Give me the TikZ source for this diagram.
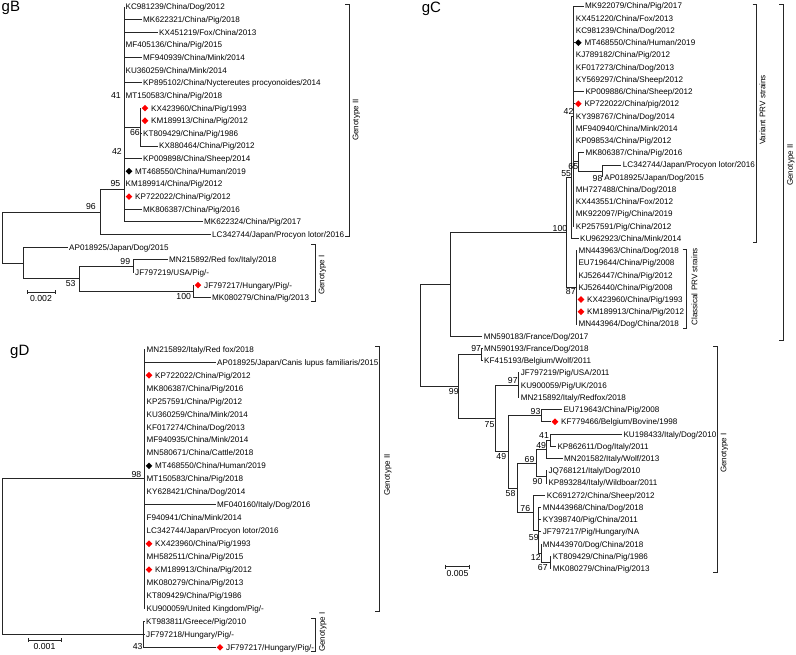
\documentclass[tikz,border=0pt]{standalone}
\usepackage{fontspec}
\setmainfont{Liberation Sans}
\usetikzlibrary{shapes.geometric}
\newcommand\lblfont{\fontsize{8.1}{9}\selectfont}
\newcommand\bsfont{\fontsize{8.7}{9}\selectfont}
\newcommand\ttlfont{\fontsize{15}{16}\selectfont}
\tikzset{
 br/.style={line width=0.9pt, draw=black!85},
 lab/.style={anchor=west, font=\lblfont, inner xsep=1.5pt, inner ysep=0pt, text height=5.8pt, text depth=0pt},
 bs/.style={font=\bsfont, inner sep=0pt, text height=6.2pt, text depth=0pt},
 dia/.style={diamond, inner sep=0pt, minimum size=6.8pt, draw=none},
 grp/.style={font=\lblfont, rotate=90, inner sep=0pt, text height=5.8pt, text depth=0pt},
 brk/.style={line width=1pt, draw=black!85},
 ttl/.style={font=\ttlfont, anchor=base west, inner sep=0pt},
}
% leaf: name, parent, tip x, y, text
\newcommand\tleaf[5]{\node[lab] (#1) at (#3,#4) {#5}; \draw[br] (#2) |- (#1.west);}
% leaf with diamond: name, parent, tip x, y, text, colour
\newcommand\dleaf[6]{\node[dia,fill=#6] (#1d) at ({#3+5},#4) {}; \node[lab] (#1) at ({#3+9.5},#4) {#5}; \draw[br] (#2) |- (#1d.west);}
% bracket: name, x, ytop, ybottom
\newcommand\gbracket[4]{\coordinate (#1t) at (#2,#3); \coordinate (#1b) at (#2,#4);
 \draw[brk] ([xshift=-4pt]#1t) -- (#1t) -- (#1b) -- ([xshift=-4pt]#1b);}
% scale bar: name, x1, x2, y, text
\newcommand\sbar[5]{\coordinate (#1L) at (#2,#4); \coordinate (#1R) at (#3,#4);
 \draw[br] (#1L) -- (#1R);
 \draw[br] ([yshift=2pt]#1L) -- ([yshift=-2pt]#1L);
 \draw[br] ([yshift=2pt]#1R) -- ([yshift=-2pt]#1R);
 \node[bs] (#1T) at ({(#2+#3)/2},{#4+6.5}) {#5};}
\begin{document}
\begin{tikzpicture}[x=1pt,y=-1pt]
\useasboundingbox (0,0) rectangle (796,654);
% ================= gB =================
\node[ttl] (tB) at (1.5,11.6) {gB};
\coordinate (bn66) at (140,127.1);
\coordinate (bn41) at (124,100);
\coordinate (bn42) at (124,156);
\coordinate (bn95) at (124,189.5);
\coordinate (bn96) at (100,212);
\coordinate (bn99) at (133,266.1);
\coordinate (bn100) at (193,291.4);
\coordinate (bn53) at (79,278.8);
\coordinate (bnI) at (23,263);
\coordinate (bRoot) at (2,237.5);
\draw[br] (bRoot) |- (bn96); \draw[br] (bRoot) |- (bnI);
\draw[br] (bn96) |- (bn95); \draw[br] (bn95) |- (bn42);
\draw[br] (bn42) |- (bn41); \draw[br] (bn41) |- (bn66);
\draw[br] (bnI) |- (bn53); \draw[br] (bn53) |- (bn99); \draw[br] (bn53) |- (bn100);
\tleaf{b1}{bn41}{124}{7.0}{KC981239/China/Dog/2012}
\tleaf{b2}{bn41}{141.5}{19.6}{MK622321/China/Pig/2018}
\tleaf{b3}{bn41}{157.5}{32.3}{KX451219/Fox/China/2013}
\tleaf{b4}{bn41}{124}{44.9}{MF405136/China/Pig/2015}
\tleaf{b5}{bn41}{141.5}{57.6}{MF940939/China/Mink/2014}
\tleaf{b6}{bn41}{124}{70.2}{KU360259/China/Mink/2014}
\tleaf{b7}{bn41}{141.5}{82.8}{KP895102/China/Nyctereutes procyonoides/2014}
\tleaf{b8}{bn41}{124}{95.5}{MT150583/China/Pig/2018}
\dleaf{b9}{bn66}{140}{108.1}{KX423960/China/Pig/1993}{red}
\dleaf{b10}{bn66}{140}{120.8}{KM189913/China/Pig/2012}{red}
\tleaf{b11}{bn66}{141.5}{133.4}{KT809429/China/Pig/1986}
\tleaf{b12}{bn66}{157.5}{146.0}{KX880464/China/Pig/2012}
\tleaf{b13}{bn42}{141.5}{158.7}{KP009898/China/Sheep/2014}
\dleaf{b14}{bn42}{124}{171.3}{MT468550/China/Human/2019}{black}
\tleaf{b15}{bn42}{124}{184.0}{KM189914/China/Pig/2012}
\dleaf{b16}{bn42}{124}{196.6}{KP722022/China/Pig/2012}{red}
\tleaf{b17}{bn42}{141.5}{209.2}{MK806387/China/Pig/2016}
\tleaf{b18}{bn95}{202.5}{221.9}{MK622324/China/Pig/2017}
\tleaf{b19}{bn96}{210.5}{234.5}{LC342744/Japan/Procyon lotor/2016}
\tleaf{b20}{bnI}{67.5}{247.2}{AP018925/Japan/Dog/2015}
\tleaf{b21}{bn99}{167.5}{259.8}{MN215892/Red fox/Italy/2018}
\tleaf{b22}{bn99}{133.5}{272.4}{JF797219/USA/Pig/-}
\dleaf{b23}{bn100}{193}{285.1}{JF797217/Hungary/Pig/-}{red}
\tleaf{b24}{bn100}{210.5}{297.7}{MK080279/China/Pig/2013}
\node[bs] (bb41) at (116,95.7) {41};
\node[bs] (bb42) at (117,151) {42};
\node[bs] (bb95) at (115.5,183.3) {95};
\node[bs] (bb96) at (91,206.7) {96};
\node[bs] (bb66) at (135,132.5) {66};
\node[bs] (bb99) at (125.3,261.7) {99};
\node[bs] (bb53) at (70.7,283.3) {53};
\node[bs] (bb100) at (183.7,296.7) {100};
\sbar{bs}{27}{55}{292.3}{0.002}
\gbracket{bGII}{349.3}{4.7}{236.7}
\node[grp] (bGIIt) at (355.5,120) {Genotype II};
\gbracket{bGI}{315}{244}{301.7}
\node[grp] (bGIt) at (321.5,275) {Genotype I};
% ================= gC =================
\node[ttl] (tC) at (421.7,12.6) {gC};
\coordinate (cn98) at (602.7,171.1);
\coordinate (cn65) at (578.7,161.9);
\coordinate (cn42) at (573.3,116.1);
\coordinate (cn55) at (571.5,177.2);
\coordinate (cn87) at (576,287.3);
\coordinate (cn100) at (566,232.3);
\coordinate (cnA) at (450,284.2);
\coordinate (cn97a) at (481.7,354.6);
\coordinate (cn97b) at (518.3,385.1);
\coordinate (cn93) at (541,415.7);
\coordinate (cn41) at (550,440.2);
\coordinate (cn49b) at (546.7,449.3);
\coordinate (cn90) at (546,476.9);
\coordinate (cn69) at (536,463.1);
\coordinate (cn67) at (550,562.5);
\coordinate (cn12) at (541.2,553.3);
\coordinate (cn59) at (538.3,530.4);
\coordinate (cn76) at (533.3,512.8);
\coordinate (cn58) at (517.3,488);
\coordinate (cn49) at (508.3,451.9);
\coordinate (cn75) at (495,418.5);
\coordinate (cn99) at (458.3,386.6);
\coordinate (cRoot) at (420.7,335.4);
\draw[br] (cRoot) |- (cnA); \draw[br] (cRoot) |- (cn99);
\draw[br] (cnA) |- (cn100); \draw[br] (cn100) |- (cn55); \draw[br] (cn100) |- (cn87);
\draw[br] (cn55) |- (cn42); \draw[br] (cn42) |- (cn65); \draw[br] (cn65) |- (cn98);
\draw[br] (cn99) |- (cn97a); \draw[br] (cn99) |- (cn75);
\draw[br] (cn75) |- (cn97b); \draw[br] (cn75) |- (cn49);
\draw[br] (cn49) |- (cn93); \draw[br] (cn49) |- (cn58);
\draw[br] (cn58) |- (cn69); \draw[br] (cn58) |- (cn76);
\draw[br] (cn69) |- (cn49b); \draw[br] (cn69) |- (cn90); \draw[br] (cn49b) |- (cn41);
\draw[br] (cn76) |- (cn59); \draw[br] (cn59) |- (cn12); \draw[br] (cn12) |- (cn67);
\tleaf{c1}{cn42}{583.5}{6.0}{MK922079/China/Pig/2017}
\tleaf{c2}{cn42}{574.2}{18.2}{KX451220/China/Fox/2013}
\tleaf{c3}{cn42}{574.2}{30.5}{KC981239/China/Dog/2012}
\dleaf{c4}{cn42}{573.3}{42.7}{MT468550/China/Human/2019}{black}
\tleaf{c5}{cn42}{574.2}{54.9}{KJ789182/China/Pig/2012}
\tleaf{c6}{cn42}{574.2}{67.2}{KF017273/China/Dog/2013}
\tleaf{c7}{cn42}{574.2}{79.4}{KY569297/China/Sheep/2012}
\tleaf{c8}{cn42}{583.8}{91.6}{KP009886/China/Sheep/2012}
\dleaf{c9}{cn42}{573.3}{103.8}{KP722022/China/pig/2012}{red}
\tleaf{c10}{cn42}{574.2}{116.1}{KY398767/China/Dog/2014}
\tleaf{c11}{cn42}{574.2}{128.3}{MF940940/China/Mink/2014}
\tleaf{c12}{cn42}{574.2}{140.5}{KP098534/China/Pig/2012}
\tleaf{c13}{cn65}{583.8}{152.8}{MK806387/China/Pig/2016}
\tleaf{c14}{cn98}{621.2}{165.0}{LC342744/Japan/Procyon lotor/2016}
\tleaf{c15}{cn98}{602.7}{177.2}{AP018925/Japan/Dog/2015}
\tleaf{c16}{cn42}{574.2}{189.5}{MH727488/China/Dog/2018}
\tleaf{c17}{cn42}{574.2}{201.7}{KX443551/China/Fox/2012}
\tleaf{c18}{cn42}{574.2}{213.9}{MK922097/Pig/China/2019}
\tleaf{c19}{cn42}{574.2}{226.1}{KP257591/Pig/China/2012}
\tleaf{c20}{cn55}{578.5}{238.4}{KU962923/China/Mink/2014}
\tleaf{c21}{cn87}{576.8}{250.6}{MN443963/China/Dog/2018}
\tleaf{c22}{cn87}{576.8}{262.8}{EU719644/China/Pig/2008}
\tleaf{c23}{cn87}{576.8}{275.1}{KJ526447/China/Pig/2012}
\tleaf{c24}{cn87}{576.8}{287.3}{KJ526440/China/Pig/2008}
\dleaf{c25}{cn87}{576}{299.5}{KX423960/China/Pig/1993}{red}
\dleaf{c26}{cn87}{576}{311.8}{KM189913/China/Pig/2012}{red}
\tleaf{c27}{cn87}{576.8}{324.0}{MN443964/Dog/China/2018}
\tleaf{c28}{cnA}{482.2}{336.2}{MN590183/France/Dog/2017}
\tleaf{c29}{cn97a}{482.5}{348.4}{MN590193/France/Dog/2018}
\tleaf{c30}{cn97a}{482.5}{360.7}{KF415193/Belgium/Wolf/2011}
\tleaf{c31}{cn97b}{519.2}{372.9}{JF797219/Pig/USA/2011}
\tleaf{c32}{cn97b}{519.2}{385.1}{KU900059/Pig/UK/2016}
\tleaf{c33}{cn97b}{519.2}{397.4}{MN215892/Italy/Redfox/2018}
\tleaf{c34}{cn93}{561.8}{409.6}{EU719643/China/Pig/2008}
\dleaf{c35}{cn93}{550}{421.8}{KF779466/Belgium/Bovine/1998}{red}
\tleaf{c36}{cn41}{621.8}{434.1}{KU198433/Italy/Dog/2010}
\tleaf{c37}{cn41}{555.8}{446.3}{KP862611/Dog/Italy/2011}
\tleaf{c38}{cn49b}{562.5}{458.5}{MN201582/Italy/Wolf/2013}
\tleaf{c39}{cn90}{546.8}{470.7}{JQ768121/Italy/Dog/2010}
\tleaf{c40}{cn90}{546.8}{483.0}{KP893284/Italy/Wildboar/2011}
\tleaf{c41}{cn76}{545.2}{495.2}{KC691272/China/Sheep/2012}
\tleaf{c42}{cn59}{541.2}{507.4}{MN443968/China/Dog/2018}
\tleaf{c43}{cn59}{541.2}{519.7}{KY398740/Pig/China/2011}
\tleaf{c44}{cn59}{541.2}{531.9}{JF797217/Pig/Hungary/NA}
\tleaf{c45}{cn12}{541.2}{544.1}{MN443970/Dog/China/2018}
\tleaf{c46}{cn67}{551.2}{556.4}{KT809429/China/Pig/1986}
\tleaf{c47}{cn67}{551.2}{568.6}{MK080279/China/Pig/2013}
\node[bs] (cb42) at (568.5,111.7) {42};
\node[bs] (cb65) at (573.3,166.7) {65};
\node[bs] (cb55) at (566.2,173.3) {55};
\node[bs] (cb98) at (597.5,178) {98};
\node[bs] (cb100) at (560,228.3) {100};
\node[bs] (cb87) at (570.8,291.7) {87};
\node[bs] (cb99) at (453.8,391) {99};
\node[bs] (cb97a) at (476.2,348.3) {97};
\node[bs] (cb97b) at (512.8,380.7) {97};
\node[bs] (cb93) at (535.5,411) {93};
\node[bs] (cb75) at (489.5,424) {75};
\node[bs] (cb41) at (544,435) {41};
\node[bs] (cb49b) at (541.2,445) {49};
\node[bs] (cb69) at (529.5,459) {69};
\node[bs] (cb49) at (501.3,456.7) {49};
\node[bs] (cb90) at (537.5,481.7) {90};
\node[bs] (cb58) at (510.5,493.3) {58};
\node[bs] (cb76) at (525.3,508.3) {76};
\node[bs] (cb59) at (533.8,537.3) {59};
\node[bs] (cb12) at (535.8,557.7) {12};
\node[bs] (cb67) at (542.8,567.7) {67};
\sbar{cs}{445.7}{469.3}{566.7}{0.005}
\gbracket{cVar}{756.7}{4}{242.3}
\node[grp] (cVart) at (762.5,110) {Variant PRV strains};
\gbracket{cGII}{783.3}{4}{340}
\node[grp] (cGIIt) at (790,165) {Genotype II};
\gbracket{cCla}{686.7}{249}{328.3}
\node[grp] (cClat) at (694.5,287) {Classical PRV strains};
\gbracket{cGI}{717.3}{346.7}{572.7}
\node[grp] (cGIt) at (723.5,453) {Genotype I};
% ================= gD =================
\node[ttl] (tD) at (10,355) {gD};
\coordinate (dn98) at (144,478.9);
\coordinate (dn43) at (143.5,634.4);
\coordinate (dRoot) at (2,556.7);
\draw[br] (dRoot) |- (dn98); \draw[br] (dRoot) |- (dn43);
\tleaf{d1}{dn98}{145}{349.3}{MN215892/Italy/Red fox/2018}
\tleaf{d2}{dn98}{215.5}{362.3}{AP018925/Japan/Canis lupus familiaris/2015}
\dleaf{d3}{dn98}{144}{375.2}{KP722022/China/Pig/2012}{red}
\tleaf{d4}{dn98}{145}{388.2}{MK806387/China/Pig/2016}
\tleaf{d5}{dn98}{145}{401.1}{KP257591/China/Pig/2012}
\tleaf{d6}{dn98}{145}{414.1}{KU360259/China/Mink/2014}
\tleaf{d7}{dn98}{145}{427.1}{KF017274/China/Dog/2013}
\tleaf{d8}{dn98}{145}{440.0}{MF940935/China/Mink/2014}
\tleaf{d9}{dn98}{145}{453.0}{MN580671/China/Cattle/2018}
\dleaf{d10}{dn98}{144}{465.9}{MT468550/China/Human/2019}{black}
\tleaf{d11}{dn98}{145}{478.9}{MT150583/China/Pig/2018}
\tleaf{d12}{dn98}{145}{491.9}{KY628421/China/Dog/2014}
\tleaf{d13}{dn98}{215.5}{504.8}{MF040160/Italy/Dog/2016}
\tleaf{d14}{dn98}{145}{517.8}{F940941/China/Mink/2014}
\tleaf{d15}{dn98}{145}{530.7}{LC342744/Japan/Procyon lotor/2016}
\dleaf{d16}{dn98}{144}{543.7}{KX423960/China/Pig/1993}{red}
\tleaf{d17}{dn98}{145}{556.7}{MH582511/China/Pig/2015}
\dleaf{d18}{dn98}{144}{569.6}{KM189913/China/Pig/2012}{red}
\tleaf{d19}{dn98}{145}{582.6}{MK080279/China/Pig/2013}
\tleaf{d20}{dn98}{145}{595.5}{KT809429/China/Pig/1986}
\tleaf{d21}{dn98}{145}{608.5}{KU900059/United Kingdom/Pig/-}
\tleaf{d22}{dn43}{144.5}{621.4}{KT983811/Greece/Pig/2010}
\tleaf{d23}{dn43}{144.5}{634.4}{JF797218/Hungary/Pig/-}
\dleaf{d24}{dn43}{215}{647.4}{JF797217/Hungary/Pig/-}{red}
\node[bs] (db98) at (136.5,474) {98};
\node[bs] (db43) at (137.7,646.7) {43};
\sbar{ds}{28}{61}{640}{0.001}
\gbracket{dGII}{379.3}{346}{611.7}
\node[grp] (dGIIt) at (387,475) {Genotype II};
\gbracket{dGI}{315}{618}{651.7}
\node[grp] (dGIt) at (322,632) {Genotype I};
\end{tikzpicture}
\end{document}
